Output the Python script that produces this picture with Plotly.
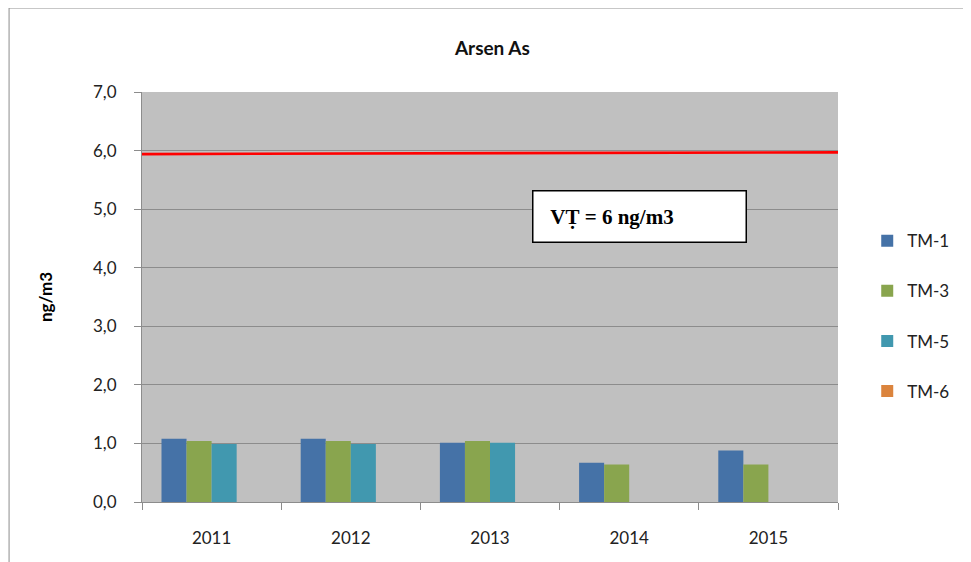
import plotly.graph_objects as go

years = ["2011", "2012", "2013", "2014", "2015"]
tm1 = [1.08, 1.08, 1.01, 0.67, 0.88]
tm3 = [1.04, 1.04, 1.04, 0.64, 0.64]
tm5 = [0.99, 0.99, 1.01, None, None]
tm6 = [None, None, None, None, None]
series_names = ["TM-1", "TM-3", "TM-5", "TM-6"]
series_colors = ["#4572A7", "#89A54E", "#4198AF", "#DB843D"]
limit_x = [0, 1.003]
limit_y = [5.94, 5.97]
y_ticks = [0, 1, 2, 3, 4, 5, 6, 7]
y_tick_labels = ["0,0", "1,0", "2,0", "3,0", "4,0", "5,0", "6,0", "7,0"]

FONT = "Lato, Open Sans, sans-serif"

fig = go.Figure()
for name, vals, col in zip(series_names, [tm1, tm3, tm5, tm6], series_colors):
    fig.add_trace(go.Bar(x=years, y=vals, name=name, marker=dict(color=col, line=dict(width=0)),
                         legendgroup=name))

fig.add_trace(go.Scatter(x=limit_x, y=limit_y, mode="lines", xaxis="x2",
                         line=dict(color="#FF0000", width=2.6), showlegend=False, cliponaxis=False))

fig.update_layout(
    width=963, height=554,
    margin=dict(l=134, r=133, t=84, b=60),
    paper_bgcolor="white", plot_bgcolor="#C0C0C0",
    barmode="group", bargap=0.28, bargroupgap=0,
    font=dict(family=FONT, size=17, color="#222222"),
    title=dict(text="<b>Arsen As</b>", x=0.503, xanchor="center", y=0.928, yanchor="middle",
               font=dict(size=19, color="#111111")),
    xaxis=dict(type="category", showgrid=False, showline=True, linecolor="#8C8C8C", linewidth=1,
               ticks="outside", tickson="boundaries", ticklen=7, tickcolor="#8C8C8C",
               tickfont=dict(size=17), zeroline=False, ticklabelstandoff=21),
    xaxis2=dict(range=[0, 1], overlaying="x", visible=False),
    yaxis=dict(range=[0, 7], tickvals=y_ticks, ticktext=y_tick_labels, showgrid=True,
               gridcolor="#8C8C8C", gridwidth=1, showline=True, linecolor="#8C8C8C",
               ticks="outside", ticklen=7, tickcolor="#8C8C8C", zeroline=False,
               tickfont=dict(size=17), ticklabelstandoff=14,
               title=dict(text="<b>ng/m3</b>", font=dict(size=17, color="#000000"), standoff=36)),
    legend=dict(x=1.042, y=0.68, xanchor="left", yanchor="top", tracegroupgap=25,
                font=dict(size=17), bgcolor="rgba(0,0,0,0)", itemwidth=30),
    annotations=[dict(text="<b>&nbsp;&nbsp;&nbsp;VṬ = 6 ng/m3</b>", xref="paper", yref="y", x=0.7155, y=4.88,
                      showarrow=False, font=dict(family="Liberation Serif, serif", size=21, color="#000000"),
                      bgcolor="white", bordercolor="#000000", borderwidth=1.5,
                      width=210, height=48, align="left", xanchor="center", yanchor="middle")],
    shapes=[dict(type="rect", xref="paper", yref="paper", x0=-0.191, x1=1.3, y0=-0.3, y1=1.2049,
                 line=dict(color="#8C8C8C", width=1), layer="below")],
)

fig.write_html("out.html")
